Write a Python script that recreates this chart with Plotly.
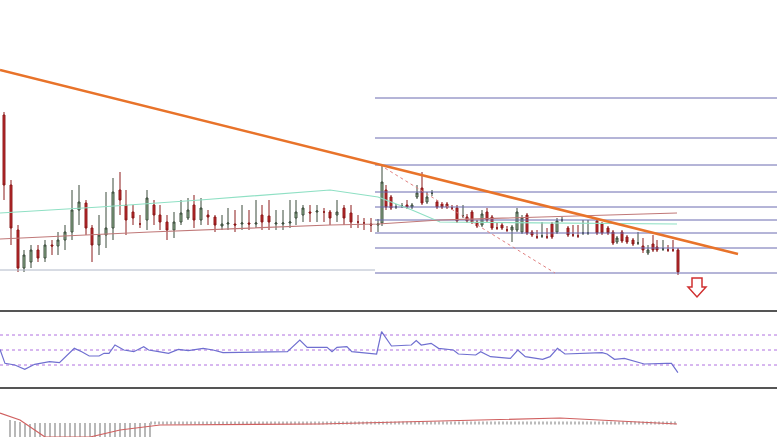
import plotly.graph_objects as go

H = 437
# candle time positions and OHLC (chart units, read as pixel heights from top)
t = [4,11,18,24,31,38,45,52,58,65,72,79,86,92,99,106,113,120,126,133,140,147,154,160,167,174,181,188,194,201,208,215,222,228,235,242,249,256,262,269,276,283,290,296,303,310,317,324,330,337,344,351,358,364,371,378,
     382,386,391,396,402,407,412,417,422,427,432,437,442,447,452,457,463,467,472,477,482,487,492,497,502,507,512,517,522,527,532,537,542,547,552,557,562,568,573,578,583,588,597,602,608,613,617,622,627,633,638,643,648,653,657,663,668,673,678]
o = [115,185,230,268,262,250,258,245,246,240,232,210,203,228,245,235,228,190,205,212,224,220,205,215,222,230,222,218,205,220,215,217,226,224,224,224,223,224,215,216,224,224,223,218,215,212,212,212,212,215,208,213,222,223,224,225,
     223,190,197,207,206,205,207,197,188,202,193,202,204,204,208,208,216,217,212,222,225,212,217,228,225,230,230,230,232,215,232,237,236,237,224,232,220,228,235,236,233,233,221,224,228,232,242,232,237,240,243,246,253,244,247,249,250,250,250]
c = [185,228,268,255,250,258,245,246,240,232,210,202,228,245,235,228,192,200,220,218,224,198,215,222,230,222,213,210,220,208,217,225,224,223,225,223,224,223,222,222,223,223,222,212,208,213,211,212,218,212,218,222,222,223,225,224,
     182,207,208,207,206,207,205,193,203,197,193,207,207,207,208,221,216,221,222,226,214,220,228,228,228,230,227,212,218,233,235,237,236,237,237,221,220,235,235,236,233,233,233,233,233,243,238,241,242,244,243,250,250,250,250,249,250,250,272]
h = [112,180,225,250,245,245,240,240,232,225,190,185,200,225,215,192,178,172,190,205,215,190,200,205,215,212,200,198,195,198,210,215,215,208,210,205,210,200,205,200,210,210,200,200,205,205,205,208,210,200,205,205,215,218,218,219,
     165,185,195,204,203,200,203,185,172,192,190,200,202,202,205,205,205,214,210,220,210,208,215,222,223,226,225,208,215,213,230,230,222,228,222,218,217,226,225,225,220,220,219,222,226,230,236,230,235,238,232,238,245,235,240,240,245,240,248]
l = [200,245,272,272,268,262,262,255,255,250,240,225,235,262,255,248,240,215,235,225,228,230,225,230,240,238,225,220,228,225,225,232,230,230,232,230,230,228,230,230,230,230,228,225,222,222,222,222,225,222,225,228,228,230,232,232,
     226,210,210,209,208,209,209,199,205,204,196,209,209,209,210,223,218,223,224,228,227,222,230,230,230,232,242,232,234,235,237,239,238,239,239,234,222,237,237,238,235,235,235,235,235,245,244,243,244,246,245,253,255,252,252,251,252,252,275]

# moving averages
ma_g_x = [0, 100, 200, 330, 378, 412, 440, 677]
ma_g_y = [213, 207, 200, 190, 197, 210, 222, 224]
ma_r_x = [0, 150, 330, 378, 440, 677]
ma_r_y = [239, 232, 225, 224, 220, 213]
# fib levels
fib_y = [98, 138, 165, 192, 207, 220, 233, 248, 273]
# RSI
rsi_zx = [0,10,30,50,70,100,120,135,150,165,180,200,210,220,232,250,270,290,300,320,340,360,380,410,430,450,580,605,620,660,670,680,700,710,760,770,790,830,840,850,870,885,915,925,960,970,990,1030,1045,1060,1080,1095,1110,1125,1140,1170,1215,1225,1240,1260,1280,1300,1345,1355,1368]
rsi_zy = [148,190,195,208,193,185,188,165,145,155,168,168,160,160,135,150,155,140,150,155,160,148,152,145,150,158,155,120,142,142,155,142,140,155,162,95,138,135,122,135,130,145,150,162,165,155,170,175,150,170,175,178,170,145,162,160,158,162,178,175,183,192,190,190,218]
# MACD histogram (left bars) and signal
hist_x = [10,15,20,25,30,35,40,45,50,55,60,65,70,75,80,85,90,95,100,105,110,115,120,125,130,135,140,145,150]
hist_top = [420,421,422,424,424,423,423,423,423,423,423,423,423,423,423,423,423,423,423,423,423,423,423,423,423,423,423,423,423]
sig_x = [0, 20, 45, 90, 120, 160, 320, 450, 560, 677]
sig_y = [413, 420, 437, 437, 430, 425, 424, 421, 418, 424]

inv = lambda a: [H - v for v in a]
fig = go.Figure()
fig.add_trace(go.Scatter(x=[0, 375], y=inv([270, 270]), mode="lines", line=dict(color="#b0b8c8", width=1)))
for fy in fib_y:
    fig.add_trace(go.Scatter(x=[375, 777], y=inv([fy, fy]), mode="lines", line=dict(color="#6a6ab0", width=1)))
fig.add_trace(go.Scatter(x=[380, 555], y=inv([165, 273]), mode="lines", line=dict(color="#e08080", width=1, dash="dot")))
fig.add_trace(go.Scatter(x=ma_g_x, y=inv(ma_g_y), mode="lines", line=dict(color="#8fe0c4", width=1.2)))
fig.add_trace(go.Scatter(x=ma_r_x, y=inv(ma_r_y), mode="lines", line=dict(color="#c07878", width=1.2)))
fig.add_trace(go.Candlestick(x=t, open=inv(o), close=inv(c), high=inv(h), low=inv(l), whiskerwidth=0,
    increasing=dict(line=dict(color="#3a4a3a", width=1), fillcolor="#9cc09a"),
    decreasing=dict(line=dict(color="#8b1a1a", width=1), fillcolor="#c0282b")))
fig.add_trace(go.Scatter(x=[0, 738], y=inv([70, 254]), mode="lines", line=dict(color="#e8732a", width=2.5)))
# panels
for sy in [311, 388]:
    fig.add_trace(go.Scatter(x=[0, 777], y=inv([sy, sy]), mode="lines", line=dict(color="#555", width=2)))
for dy in [335, 350, 365]:
    fig.add_trace(go.Scatter(x=[0, 777], y=inv([dy, dy]), mode="lines", line=dict(color="#b070e0", width=1, dash="dot")))
fig.add_trace(go.Scatter(x=[v / 2.018 for v in rsi_zx], y=inv([300 + v / 3 for v in rsi_zy]), mode="lines", line=dict(color="#6f6fd0", width=1.2)))
fig.add_trace(go.Bar(x=hist_x, y=inv(hist_top), base=0, width=1.5, marker_color="#b8b8b8", marker_line_width=0))
fig.add_trace(go.Scatter(x=[150, 677], y=inv([423, 423]), mode="lines", line=dict(color="#bbbbbb", width=3, dash="2px,2px")))
fig.add_trace(go.Scatter(x=sig_x, y=inv(sig_y), mode="lines", line=dict(color="#d06060", width=1.2)))

fig.add_shape(type="path", path=f"M 692 {H-278} L 702 {H-278} L 702 {H-287} L 706 {H-287} L 697 {H-297} L 688 {H-287} L 692 {H-287} Z",
              line=dict(color="#d03030", width=1.5), fillcolor="white")

fig.update_layout(width=777, height=437, margin=dict(l=0, r=0, t=0, b=0), showlegend=False,
                  plot_bgcolor="white", paper_bgcolor="white", hovermode=False, bargap=0,
                  xaxis=dict(range=[0, 777], visible=False, rangeslider=dict(visible=False), fixedrange=True),
                  yaxis=dict(range=[0, 437], visible=False, fixedrange=True))
fig.write_html("out.html", config=dict(displayModeBar=False),
               post_script="document.body.style.margin='0';document.body.style.padding='0';document.body.style.overflow='hidden';")
